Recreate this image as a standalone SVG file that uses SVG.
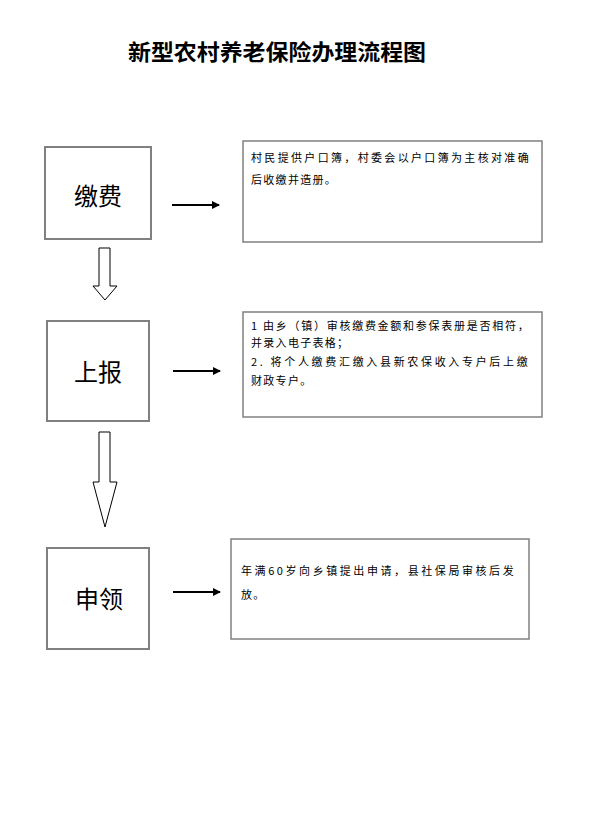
<svg xmlns="http://www.w3.org/2000/svg" width="595" height="822" viewBox="0 0 595 822">
<defs>
<style>
.step{fill:#fff;stroke:#808080;stroke-width:2}
.note{fill:#fff;stroke:#808080;stroke-width:1.5}
.lbl{font-family:"Noto Sans CJK SC","Noto Sans",sans-serif;font-size:24px;fill:#000;text-anchor:middle;dominant-baseline:central}
.txt{font-family:"Noto Sans CJK SC","Noto Sans",sans-serif;font-size:11px;letter-spacing:1.3px;fill:#000}
.ttl{font-family:"Noto Sans CJK SC",sans-serif;font-size:22px;font-weight:bold;fill:#000}
.conn{stroke:#000;stroke-width:2;fill:none}
.down{fill:#fff;stroke:#000;stroke-width:1}
</style>
<marker id="ah" viewBox="0 0 8 8" refX="7" refY="4" markerWidth="4" markerHeight="4" markerUnits="strokeWidth" orient="auto">
<path d="M0,0 L8,4 L0,8 Z" fill="#000"/>
</marker>
</defs>
<rect width="595" height="822" fill="#fff"/>
<text class="ttl" x="128" y="60" textLength="298" lengthAdjust="spacingAndGlyphs">新型农村养老保险办理流程图</text>

<g id="node-jiaofei">
<rect class="step" x="45" y="147" width="106" height="92"/>
<text class="lbl" x="98" y="194">缴费</text>
</g>
<g id="node-shangbao">
<rect class="step" x="47" y="321" width="102" height="100"/>
<text class="lbl" x="98" y="370">上报</text>
</g>
<g id="node-shenling">
<rect class="step" x="47" y="548" width="102" height="101"/>
<text class="lbl" x="99" y="597">申领</text>
</g>

<g id="note-1">
<rect class="note" x="243" y="141" width="299" height="101"/>
<text class="txt" x="251" y="162" textLength="279" lengthAdjust="spacing">村民提供户口簿，村委会以户口簿为主核对准确</text>
<text class="txt" x="251" y="184">后收缴并造册。</text>
</g>
<g id="note-2">
<rect class="note" x="243" y="312" width="299" height="105"/>
<text class="txt" x="251" y="330" textLength="279" lengthAdjust="spacing">1 由乡（镇）审核缴费金额和参保表册是否相符，</text>
<text class="txt" x="251" y="347">并录入电子表格；</text>
<text class="txt" x="251" y="366" textLength="278" lengthAdjust="spacing">2. 将个人缴费汇缴入县新农保收入专户后上缴</text>
<text class="txt" x="251" y="385">财政专户。</text>
</g>
<g id="note-3">
<rect class="note" x="231" y="539" width="298" height="100"/>
<text class="txt" x="241" y="575" textLength="274" lengthAdjust="spacing">年满60岁向乡镇提出申请，县社保局审核后发</text>
<text class="txt" x="241" y="599">放。</text>
</g>

<g id="connectors">
<line class="conn" x1="172" y1="205" x2="219" y2="205" marker-end="url(#ah)"/>
<line class="conn" x1="173" y1="371" x2="220" y2="371" marker-end="url(#ah)"/>
<line class="conn" x1="173" y1="592" x2="220" y2="592" marker-end="url(#ah)"/>
<path class="down" d="M99,248 L110,248 L110,286 L117,286 L105,300 L93,286 L99,286 Z"/>
<path class="down" d="M99,432 L110,432 L110,482 L117,482 L105,527 L93,482 L99,482 Z"/>
</g>
</svg>
